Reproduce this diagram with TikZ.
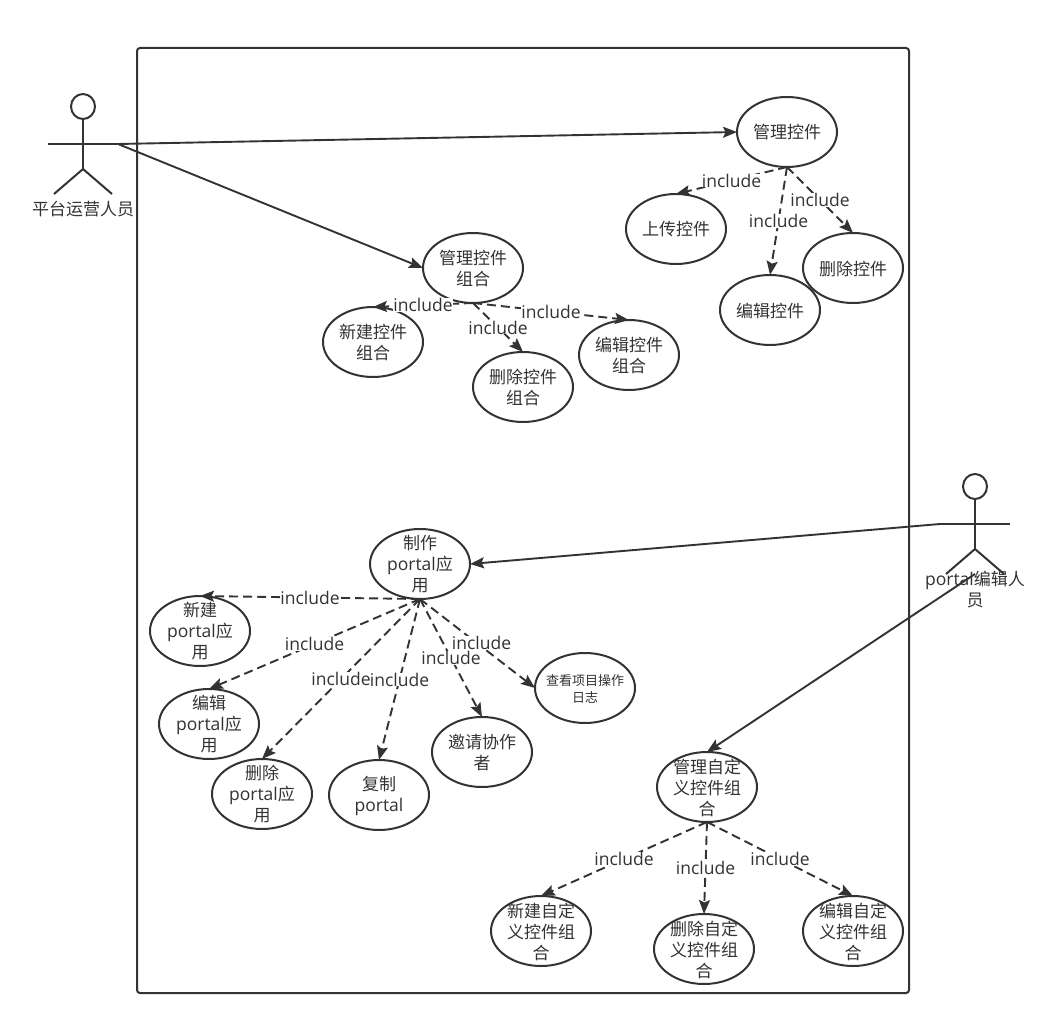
\documentclass[tikz,border=0pt]{standalone}
\usepackage{fontspec}
\setmainfont{Noto Sans CJK SC}
\newfontfamily\latn{Open Sans}[Scale=1.03]
\usetikzlibrary{shapes.geometric,arrows.meta}
\definecolor{umlline}{HTML}{333333}
\tikzset{
  uctext/.style={align=center,inner sep=0,yshift=-0.5,text=umlline,font=\fontsize{17}{21}\selectfont},
  ucshape/.style={ellipse,draw=umlline,line width=2,fill=white,minimum width=100,minimum height=70,inner sep=0,outer sep=0},
  usecase/.style={ucshape,label={[uctext]center:#1}},
  uclog/.style={ucshape,label={[uctext,font=\fontsize{13}{17}\selectfont]center:#1}},
  inclabel/.style={midway,fill=white,inner sep=0,text=umlline,font=\fontsize{17}{21}\selectfont\latn},
  assoc/.style={draw=umlline,line width=1.9,-{Stealth[length=14,width=11,inset=2.5]}},
  incl/.style={assoc,dash pattern=on 9 off 5},
  actorman/.pic={
    \draw[umlline,line width=2] (0,12.5) ellipse (12 and 12.5);
    \draw[umlline,line width=2] (0,25) -- (0,75);
    \draw[umlline,line width=2] (-35,50) -- (35,50);
    \draw[umlline,line width=2] (-29,100) -- (0,75) -- (29,100);
    \coordinate (-left) at (-35,50);
    \coordinate (-right) at (35,50);
    \coordinate (-foot) at (0,100);
  }
}
\begin{document}
\begin{tikzpicture}[x=1pt,y=-1pt]
      \useasboundingbox (0,0) rectangle (1042,1025);
      \draw[umlline,line width=2,rounded corners=3] (137,48) rectangle (909,993);
      \pic (operator) at (83,94) {actorman};
      \pic (editor) at (975,474) {actorman};
      \draw
        (787,132) node[usecase={管理控件}] (mgrwidget){}
        (676,229) node[usecase={上传控件}] (upload){}
        (770,310) node[usecase={编辑控件}] (editwidget){}
        (853,268) node[usecase={删除控件}] (delwidget){}
        (473,268) node[usecase={管理控件\\组合}] (mgrgroup){}
        (373,342) node[usecase={新建控件\\组合}] (newgroup){}
        (523,387) node[usecase={删除控件\\组合}] (delgroup){}
        (629,355) node[usecase={编辑控件\\组合}] (editgroup){}
        (420,564) node[usecase={制作\\{\latn portal}应\\用}] (portal){}
        (200,631) node[usecase={新建\\{\latn portal}应\\用}] (newportal){}
        (209,724) node[usecase={编辑\\{\latn portal}应\\用}] (editportal){}
        (262,794) node[usecase={删除\\{\latn portal}应\\用}] (delportal){}
        (379,795) node[usecase={复制\\{\latn portal}}] (copyportal){}
        (482,752) node[usecase={邀请协作\\者}] (invite){}
        (585,688) node[uclog={查看项目操作\\日志}] (oplog){}
        (707,787) node[usecase={管理自定\\义控件组\\合}] (mgrcustom){}
        (541,931) node[usecase={新建自定\\义控件组\\合}] (newcustom){}
        (704,949) node[usecase={删除自定\\义控件组\\合}] (delcustom){}
        (853,931) node[usecase={编辑自定\\义控件组\\合}] (editcustom){};
      \node[uctext] (operatorname) at (83,209) {平台运营人员};
      \node[uctext] (editorname) at (975,589) {{\latn portal}编辑人\\员};
      \begin{scope}
        \draw[assoc] (operator-right) to (mgrwidget.west);
        \draw[assoc] (operator-right) to (mgrgroup.west);
        \draw[assoc] (editor-left) to (portal.east);
        \draw[assoc] (editor-foot) to (mgrcustom.north);
        \draw[incl] (mgrwidget.south) to node[inclabel]{include} (upload.north);
        \draw[incl] (mgrwidget.south) to node[inclabel]{include} (editwidget.north);
        \draw[incl] (mgrwidget.south) to node[inclabel]{include} (delwidget.north);
        \draw[incl] (mgrgroup.south) to node[inclabel]{include} (newgroup.north);
        \draw[incl] (mgrgroup.south) to node[inclabel]{include} (delgroup.north);
        \draw[incl] (mgrgroup.south) to node[inclabel]{include} (editgroup.north);
        \draw[incl] (portal.south) to node[inclabel]{include} (newportal.north);
        \draw[incl] (portal.south) to node[inclabel]{include} (editportal.north);
        \draw[incl] (portal.south) to node[inclabel]{include} (delportal.north);
        \draw[incl] (portal.south) to node[inclabel]{include} (copyportal.north);
        \draw[incl] (portal.south) to node[inclabel,xshift=4,yshift=1]{include} (oplog.west);
        \draw[incl] (portal.south) to node[inclabel]{include} (invite.north);
        \draw[incl] (mgrcustom.south) to node[inclabel]{include} (newcustom.north);
        \draw[incl] (mgrcustom.south) to node[inclabel]{include} (delcustom.north);
        \draw[incl] (mgrcustom.south) to node[inclabel]{include} (editcustom.north);
      \end{scope}
    \end{tikzpicture}
\end{document}
